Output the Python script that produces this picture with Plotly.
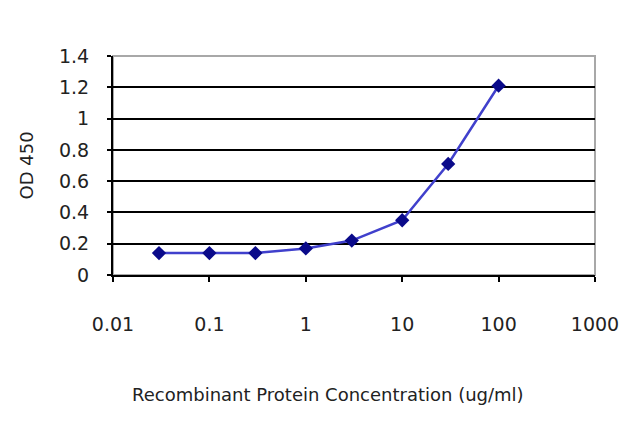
import plotly.graph_objects as go

concentration = [0.03, 0.1, 0.3, 1, 3, 10, 30, 100]
od450 = [0.14, 0.14, 0.14, 0.17, 0.22, 0.35, 0.71, 1.21]
x_ticks = [0.01, 0.1, 1, 10, 100, 1000]
x_tick_labels = ["0.01", "0.1", "1", "10", "100", "1000"]
y_ticks = [0, 0.2, 0.4, 0.6, 0.8, 1, 1.2, 1.4]
y_tick_labels = ["0", "0.2", "0.4", "0.6", "0.8", "1", "1.2", "1.4"]
x_title = "Recombinant Protein Concentration (ug/ml)"
y_title = "OD 450"

fig = go.Figure()
fig.add_trace(go.Scatter(
    x=concentration, y=od450, mode="lines+markers",
    line=dict(color="#4040cc", width=2.5),
    marker=dict(symbol="diamond", size=11, color="#0a0a8a"),
    showlegend=False,
))

font = "DejaVu Sans, sans-serif"
txt = "#222222"
fig.update_layout(
    width=640, height=427,
    margin=dict(l=105, r=53, t=48, b=160),
    paper_bgcolor="white", plot_bgcolor="white",
    font=dict(family=font, color=txt),
    shapes=[dict(type="rect", xref="paper", yref="paper", x0=0, x1=1, y0=0, y1=1,
                 line=dict(color="#a8a8a8", width=2), layer="below")],
    annotations=[
        dict(text=x_title, xref="paper", yref="paper", x=0.446, y=0,
             xanchor="center", yanchor="middle", yshift=-119, showarrow=False,
             font=dict(size=18, color=txt, family=font)),
        dict(text=y_title, xref="paper", yref="paper", x=0, y=0.5,
             xanchor="center", yanchor="middle", xshift=-87, textangle=-90,
             showarrow=False, font=dict(size=18, color=txt, family=font)),
    ],
)
fig.update_xaxes(
    type="log", range=[-2, 3], tickvals=x_ticks, ticktext=x_tick_labels,
    showgrid=False, zeroline=False, showline=True, linecolor="black", linewidth=2,
    ticks="outside", ticklen=5, tickwidth=2, tickcolor="black",
    tickfont=dict(size=19, color=txt), ticklabelstandoff=26, automargin=False,
)
fig.update_yaxes(
    range=[0, 1.4], tickvals=y_ticks, ticktext=y_tick_labels,
    showgrid=True, gridcolor="black", gridwidth=2, zeroline=False,
    showline=True, linecolor="black", linewidth=2,
    ticks="outside", ticklen=4, tickwidth=2, tickcolor="black",
    tickfont=dict(size=19, color=txt), ticklabelstandoff=14, automargin=False,
)
fig.write_html("out.html")
